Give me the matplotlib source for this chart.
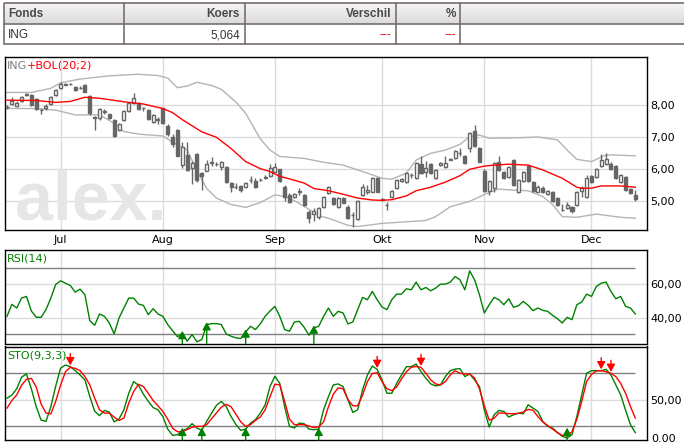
import matplotlib
matplotlib.use("Agg")
import matplotlib.pyplot as plt
import numpy as np
import pandas as pd
from matplotlib import font_manager
from matplotlib.patches import Rectangle

W, H = 684, 448
plt.rcParams["font.family"] = ["DejaVu Sans"]

# trading days shown (ING, jun-dec 2011)
dates = pd.bdate_range("2011-06-16", "2011-12-14")
month_names = ["Jul", "Aug", "Sep", "Okt", "Nov", "Dec"]

opens = [7.95, 8.04, 7.99, 8.13, 8.33, 8.31, 8.20, 7.86, 7.90, 8.03,
         8.31, 8.53, 8.64, 8.67, 8.58, 8.53, 8.62, 8.30, 7.62, 7.60,
         7.80, 7.72, 7.54, 7.22, 7.54, 7.82, 8.06, 8.06, 7.92, 7.85,
         7.47, 7.56, 7.90, 7.35, 7.00, 7.23, 6.12, 6.44, 6.03, 6.47,
         5.89, 5.96, 6.20, 6.18, 6.08, 6.08, 5.58, 5.44, 5.48, 5.46,
         5.66, 5.64, 5.66, 5.74, 5.79, 5.93, 6.00, 5.46, 5.20, 5.13,
         5.29, 5.20, 4.68, 4.60, 4.50, 4.83, 5.27, 5.11, 4.81, 5.11,
         4.81, 4.58, 4.44, 5.20, 5.28, 5.30, 5.72, 5.07, 4.89, 5.13,
         5.41, 5.63, 5.61, 5.82, 5.72, 6.17, 5.93, 6.17, 5.72, 6.13,
         6.08, 6.30, 6.34, 6.51, 6.43, 6.66, 7.21, 6.66, 5.96, 5.33,
         5.41, 6.24, 5.93, 5.77, 6.29, 5.30, 5.63, 6.11, 5.59, 5.30,
         5.43, 5.24, 5.30, 5.11, 4.74, 4.80, 4.83, 4.88, 5.33, 5.14,
         5.79, 5.75, 6.11, 6.17, 6.17, 6.10, 5.61, 5.77, 5.38, 5.20]
closes = [7.96, 8.14, 8.08, 8.25, 8.34, 8.01, 7.88, 7.84, 7.99, 8.26,
          8.49, 8.68, 8.68, 8.66, 8.47, 8.55, 8.41, 7.75, 7.60, 7.87,
          7.81, 7.60, 7.05, 7.43, 7.81, 8.07, 8.23, 7.88, 7.90, 7.57,
          7.71, 7.54, 7.45, 7.10, 6.78, 6.43, 6.70, 5.98, 6.20, 5.67,
          5.79, 6.17, 6.22, 6.16, 6.24, 5.61, 5.46, 5.45, 5.35, 5.56,
          5.68, 5.46, 5.68, 5.76, 6.03, 6.08, 5.64, 5.14, 4.99, 5.23,
          5.31, 4.88, 4.47, 4.71, 4.78, 5.13, 5.44, 4.91, 5.11, 4.96,
          4.47, 4.56, 5.02, 5.46, 5.35, 5.72, 5.30, 5.05, 4.88, 5.33,
          5.67, 5.70, 5.89, 5.83, 6.21, 5.89, 6.03, 5.88, 5.98, 6.21,
          6.21, 6.32, 6.57, 6.52, 6.21, 7.12, 6.73, 6.24, 5.33, 5.62,
          6.19, 5.98, 5.74, 6.06, 5.51, 5.67, 5.91, 5.63, 5.32, 5.46,
          5.30, 5.32, 5.01, 4.88, 4.73, 4.88, 4.70, 5.30, 5.42, 5.74,
          5.60, 6.00, 6.29, 6.31, 6.00, 5.72, 5.82, 5.35, 5.27, 5.064]
highs = [8.02, 8.25, 8.12, 8.28, 8.38, 8.34, 8.24, 7.90, 8.03, 8.28,
         8.52, 8.72, 8.70, 8.71, 8.60, 8.60, 8.68, 8.32, 7.68, 7.90,
         7.88, 7.74, 7.56, 7.46, 7.84, 8.10, 8.39, 8.10, 7.95, 7.88,
         7.74, 7.63, 7.93, 7.40, 7.10, 7.25, 6.85, 6.86, 6.25, 6.50,
         5.92, 6.30, 6.39, 6.24, 6.27, 6.10, 5.60, 5.56, 5.50, 5.60,
         5.80, 5.72, 5.72, 5.83, 6.15, 6.20, 6.02, 5.50, 5.25, 5.27,
         5.42, 5.22, 4.72, 4.78, 4.82, 5.16, 5.48, 5.14, 5.14, 5.13,
         4.88, 4.68, 5.05, 5.55, 5.50, 5.75, 5.75, 5.10, 4.98, 5.36,
         5.70, 5.73, 5.92, 5.87, 6.24, 6.40, 6.26, 6.20, 6.01, 6.24,
         6.40, 6.35, 6.60, 6.65, 6.46, 7.15, 7.38, 6.70, 6.00, 5.66,
         6.22, 6.40, 5.96, 6.09, 6.32, 5.70, 5.94, 6.14, 5.62, 5.52,
         5.48, 5.35, 5.33, 5.13, 4.92, 4.98, 4.86, 5.33, 5.48, 5.82,
         5.82, 6.03, 6.48, 6.50, 6.24, 6.13, 5.85, 5.80, 5.42, 5.34]
lows = [7.88, 8.00, 7.96, 8.10, 8.30, 7.98, 7.85, 7.73, 7.86, 8.00,
        8.29, 8.50, 8.62, 8.63, 8.45, 8.50, 8.40, 7.70, 7.22, 7.55,
        7.72, 7.58, 7.00, 7.20, 7.50, 7.80, 8.04, 7.86, 7.82, 7.55,
        7.44, 7.40, 7.42, 7.05, 6.70, 6.40, 6.05, 5.95, 5.54, 5.60,
        5.35, 5.94, 6.10, 6.10, 5.98, 5.58, 5.30, 5.38, 5.30, 5.42,
        5.58, 5.40, 5.62, 5.70, 5.76, 5.90, 5.60, 5.02, 4.95, 5.10,
        5.20, 4.85, 4.31, 4.38, 4.45, 4.80, 5.22, 4.88, 4.78, 4.94,
        4.44, 4.21, 4.41, 5.18, 5.22, 5.28, 5.28, 5.00, 4.73, 5.10,
        5.38, 5.60, 5.58, 5.74, 5.70, 5.86, 5.75, 5.85, 5.70, 6.10,
        6.05, 6.28, 6.32, 6.42, 6.18, 6.55, 6.70, 6.22, 5.30, 5.20,
        5.30, 5.95, 5.70, 5.74, 5.48, 5.25, 5.60, 5.60, 5.28, 5.28,
        5.27, 5.20, 4.99, 4.85, 4.71, 4.76, 4.62, 4.85, 5.12, 5.10,
        5.56, 5.72, 6.08, 6.14, 5.97, 5.69, 5.58, 5.33, 5.22, 5.02]

# Bollinger (20;2), read at sample days
ma_days = [0, 6, 10, 13, 16, 19, 24, 28, 32, 34, 36, 40, 43, 46, 49, 52, 54, 56,
           58, 61, 63, 66, 69, 72, 75, 77, 79, 82, 84, 87, 90, 93, 95, 98, 100,
           103, 107, 110, 112, 114, 117, 118, 120, 122, 126, 129]
ma_vals = [8.16, 8.15, 8.09, 8.12, 8.25, 8.22, 8.11, 8.04, 7.90, 7.77, 7.55, 7.17,
           7.00, 6.65, 6.24, 6.02, 5.93, 5.78, 5.70, 5.57, 5.40, 5.33, 5.22, 5.10,
           5.04, 5.03, 5.05, 5.17, 5.33, 5.44, 5.60, 5.80, 6.00, 6.10, 6.13, 6.16,
           6.13, 5.98, 5.85, 5.72, 5.44, 5.41, 5.41, 5.48, 5.48, 5.44]
up_days = [0, 5, 9, 11, 15, 21, 27, 31, 33, 35, 37, 39, 42, 44, 47, 49, 52, 54, 56,
           61, 65, 69, 73, 77, 79, 82, 84, 87, 90, 93, 95, 97, 99, 104, 109, 113,
           115, 117, 120, 123, 126, 129]
up_vals = [8.40, 8.40, 8.53, 8.70, 8.82, 8.92, 8.97, 8.93, 8.85, 8.55, 8.60, 8.72,
           8.62, 8.50, 8.10, 7.75, 6.95, 6.60, 6.40, 6.34, 6.22, 6.13, 5.93, 5.72,
           5.69, 5.88, 6.29, 6.50, 6.60, 6.78, 7.02, 7.07, 6.97, 6.98, 7.01, 6.92,
           6.60, 6.31, 6.24, 6.45, 6.44, 6.42]
lo_days = [0, 5, 10, 14, 19, 22, 24, 27, 32, 34, 37, 39, 41, 43, 46, 49, 52, 55, 57,
           59, 62, 64, 66, 70, 72, 77, 82, 86, 88, 91, 95, 99, 101, 104, 107, 110,
           112, 114, 117, 121, 126, 129]
lo_vals = [7.90, 7.90, 7.85, 7.70, 7.70, 7.44, 7.18, 7.10, 7.04, 6.85, 6.60, 5.95,
           5.40, 5.10, 4.90, 4.81, 4.96, 5.20, 5.15, 5.02, 4.75, 4.55, 4.47, 4.25,
           4.21, 4.31, 4.36, 4.40, 4.52, 4.83, 5.00, 5.28, 5.38, 5.35, 5.33, 5.15,
           4.90, 4.52, 4.50, 4.60, 4.50, 4.47]

rsi = [40.8, 48.0, 45.8, 51.8, 52.8, 44.0, 40.2, 40.2, 44.8, 51.8,
       60.0, 62.2, 60.8, 59.4, 55.4, 57.2, 53.8, 38.2, 35.4, 42.2,
       40.8, 36.8, 30.2, 39.8, 45.8, 51.8, 51.8, 48.2, 47.4, 41.8,
       45.4, 42.2, 40.8, 35.8, 32.2, 28.5, 30.5, 25.8, 29.8, 25.4,
       26.8, 35.8, 36.4, 36.4, 35.8, 30.2, 28.8, 27.8, 27.4, 31.4,
       34.8, 32.8, 36.2, 40.8, 44.0, 46.8, 40.8, 32.8, 31.8, 37.4,
       37.8, 34.2, 29.4, 33.8, 34.8, 40.8, 45.8, 40.8, 43.8, 42.8,
       36.2, 37.4, 44.8, 52.2, 50.8, 55.8, 50.8, 46.4, 44.8, 50.8,
       54.2, 54.2, 57.4, 56.8, 61.4, 56.8, 58.2, 56.2, 57.8, 60.2,
       60.2, 61.4, 64.8, 62.8, 56.8, 68.2, 62.8, 53.8, 42.8, 47.8,
       52.2, 50.8, 47.8, 51.4, 46.2, 47.2, 49.8, 47.4, 44.2, 45.8,
       44.4, 43.8, 41.4, 39.4, 36.8, 40.2, 38.8, 47.8, 49.4, 54.2,
       52.8, 58.8, 60.8, 61.4, 55.8, 51.4, 52.8, 46.8, 45.8, 42.2]
sto_k = [51.5, 55.0, 62.0, 75.0, 78.5, 62.0, 42.0, 27.0, 25.6, 42.0,
         65.0, 85.0, 88.5, 86.7, 82.2, 77.4, 71.9, 53.3, 37.0, 32.0,
         37.8, 36.0, 25.0, 28.2, 38.5, 57.0, 70.0, 66.0, 56.0, 48.0,
         41.0, 38.5, 31.0, 17.0, 10.0, 10.7, 15.0, 17.5, 23.0, 18.2,
         15.6, 25.6, 34.8, 43.5, 47.8, 42.2, 31.0, 22.0, 15.6, 17.0,
         23.7, 27.4, 34.8, 44.0, 64.5, 76.0, 68.0, 42.0, 20.0, 18.2,
         23.7, 23.0, 17.0, 16.3, 17.0, 38.5, 53.3, 66.3, 67.4, 64.5,
         49.6, 35.6, 38.5, 60.7, 77.4, 87.4, 83.7, 71.9, 57.0, 57.0,
         68.0, 77.4, 86.7, 86.7, 89.6, 81.1, 73.7, 67.4, 65.2, 66.3,
         75.6, 82.2, 84.0, 84.5, 75.6, 78.5, 71.9, 64.5, 38.5, 19.3,
         33.0, 37.8, 36.7, 30.4, 33.0, 34.8, 34.1, 44.1, 40.4, 36.7,
         25.6, 20.0, 18.2, 13.3, 8.9, 7.0, 10.7, 31.1, 55.2, 79.3,
         82.2, 82.2, 82.2, 83.7, 77.4, 66.3, 55.2, 38.0, 22.0, 13.0]
sto_d = [40.4, 48.9, 55.2, 66.0, 72.5, 73.6, 64.0, 45.0, 35.0, 34.0,
         48.0, 66.0, 81.0, 86.0, 84.8, 82.2, 75.6, 66.3, 51.5, 38.5,
         34.8, 34.8, 30.4, 26.7, 29.3, 46.0, 58.9, 67.0, 64.5, 57.0,
         48.9, 43.0, 36.7, 28.0, 18.0, 14.0, 14.0, 16.5, 19.0, 20.0,
         20.0, 22.0, 28.5, 35.0, 41.5, 44.5, 42.0, 33.5, 25.0, 20.0,
         22.0, 26.7, 30.4, 38.5, 53.0, 67.0, 66.5, 48.0, 28.0, 22.0,
         21.9, 21.9, 20.5, 18.7, 19.5, 25.0, 42.0, 56.0, 63.0, 62.0,
         50.0, 43.0, 43.0, 55.0, 70.0, 79.0, 80.0, 70.0, 62.0, 60.0,
         64.0, 73.0, 81.0, 86.0, 87.0, 85.9, 79.3, 71.9, 67.4, 66.3,
         70.0, 77.4, 82.2, 79.3, 78.5, 78.5, 74.0, 62.0, 43.0, 27.0,
         29.0, 35.0, 34.8, 34.2, 34.1, 34.5, 36.0, 39.0, 38.0, 31.0,
         25.0, 21.0, 17.0, 13.0, 10.0, 9.6, 14.0, 28.0, 48.0, 70.0,
         78.0, 82.0, 82.2, 81.0, 79.3, 75.6, 68.0, 57.0, 42.2, 29.3]

# signal days
rsi_buy = [36, 41, 49, 63]
sto_buy = [36, 40, 49, 64, 115]
sto_sell = [13, 76, 85, 122, 124]

RSI_LEVELS = (30, 70)
STO_LEVELS = (20, 80)

GRID = "#dcdcdc"
CANDLE = "#666666"
BAND = "#b4b4b4"
GREEN = "#008000"
RED = "#ff0000"

names = {f.name for f in font_manager.fontManager.ttflist}
narrow = "Liberation Sans Narrow" if "Liberation Sans Narrow" in names else "Liberation Sans"
heavy = "Liberation Sans" if "Liberation Sans" in names else "DejaVu Sans"

fig = plt.figure(figsize=(W / 100, H / 100), dpi=100)
fig.patch.set_facecolor("white")


def px_axes(x0, y0, x1, y1):
    return fig.add_axes([x0 / W, 1 - y1 / H, (x1 - x0) / W, (y1 - y0) / H])


# ---- table on top
tab = fig.add_axes([0, 0, 1, 1], zorder=-1)
tab.set_xlim(0, W)
tab.set_ylim(H, 0)
tab.axis("off")
grad = np.linspace(0.96, 0.86, 40)[:, None, None] * np.ones((1, 1, 3))
tab.imshow(grad, extent=(3.5, W, 24.5, 3.5), aspect="auto", zorder=0)
border = "#786e6a"
tab.add_patch(Rectangle((3.5, 3.5), W, 41, fill=False, ec=border, lw=1.2, zorder=2))
tab.plot([3.5, W], [24.5, 24.5], color=border, lw=1.2, zorder=2)
for cx in [124, 245, 396, 460]:
    tab.plot([cx, cx], [3.5, 44.5], color=border, lw=1.2, zorder=2)
hdr = dict(family=[narrow, "DejaVu Sans"], fontsize=8.5, fontweight="bold",
           color="#4a4a4a", va="center", zorder=3)
tab.text(8, 14, "Fonds", ha="left", **hdr)
tab.text(240, 14, "Koers", ha="right", **hdr)
tab.text(391, 14, "Verschil", ha="right", **hdr)
tab.text(456, 14, "%", ha="right", **hdr)
row = dict(family=[narrow, "DejaVu Sans"], fontsize=8.5, color="#333333",
           va="center", zorder=3)
tab.text(8, 35, "ING", ha="left", **row)
tab.text(240, 35, f"{closes[-1]:.3f}".replace(".", ","), ha="right", **row)
tab.text(391, 35, "---", ha="right", **{**row, "color": RED})
tab.text(456, 35, "---", ha="right", **{**row, "color": RED})

# ---- chart panels
n = len(closes)
days = np.arange(n)
month_idx = [int(np.argmax(dates.month == m)) for m in range(7, 13)]
xlim = (-0.41, 131.4)

ax = px_axes(5, 57, 647, 230)
rsi_ax = px_axes(5, 250, 647, 343.5)
sto_ax = px_axes(5, 346.5, 647, 440)

for a in (ax, rsi_ax, sto_ax):
    a.set_xlim(*xlim)
    a.set_xticks(month_idx)
    a.set_axisbelow(True)
    a.grid(True, color=GRID, lw=1)
    a.yaxis.tick_right()
    a.tick_params(axis="both", length=0, labelsize=8, pad=2.5)
    for s in a.spines.values():
        s.set_color("black")
        s.set_linewidth(1.0)
ax.set_xticklabels(month_names)
ax.tick_params(axis="x", pad=3.5)
rsi_ax.set_xticklabels([])
sto_ax.set_xticklabels([])

# main price panel
ax.set_ylim(4.103, 9.509)
ax.set_yticks([5, 6, 7, 8])
ax.set_yticklabels([f"{v},00" for v in [5, 6, 7, 8]])
ax.text(0.0156, 0.058, "alex.", transform=ax.transAxes, family=heavy,
        fontsize=49, fontweight="bold", color="#e6e6e6", ha="left",
        va="baseline", zorder=1.5)

ax.plot(up_days, up_vals, color=BAND, lw=1, zorder=2)
ax.plot(lo_days, lo_vals, color=BAND, lw=1, zorder=2)
ax.plot(ma_days, ma_vals, color=RED, lw=1, zorder=4)

o = np.array(opens)
c = np.array(closes)
ax.vlines(days, lows, highs, color=CANDLE, lw=1, zorder=3)
face = np.where(c >= o, "white", CANDLE)
ax.bar(days, np.abs(c - o), bottom=np.minimum(o, c), width=0.62,
       color=face, edgecolor=CANDLE, linewidth=1, zorder=3.5)

t1 = ax.text(0.003, 0.948, "ING", transform=ax.transAxes, fontsize=8,
             color="#808080", ha="left", va="center")
fig.canvas.draw()
bb = t1.get_window_extent().transformed(ax.transAxes.inverted())
ax.text(bb.x1, 0.948, "+BOL(20;2)", transform=ax.transAxes, fontsize=8,
        color=RED, ha="left", va="center")

arrow_style = "-|>,head_length=0.45,head_width=0.25"


def arrow(a, x, tip, tail, color):
    a.annotate("", xy=(x, tip), xytext=(x, tail),
               arrowprops=dict(arrowstyle=arrow_style, color=color, lw=1,
                               shrinkA=0, shrinkB=0, mutation_scale=10),
               annotation_clip=False)


# RSI panel
rsi_lim = (24.4, 80.8)
rsi_ax.set_ylim(*rsi_lim)
rsi_ax.set_yticks([40, 60])
rsi_ax.set_yticklabels(["40,00", "60,00"])
rsi_ax.hlines(RSI_LEVELS, xlim[0], n - 1, color="#808080", lw=1, zorder=2)
rsi_ax.plot(days, rsi, color=GREEN, lw=1, zorder=3)
for d in rsi_buy:
    arrow(rsi_ax, d, max(rsi[d], RSI_LEVELS[0]) + 1.5, rsi_lim[0], GREEN)
rsi_ax.text(0.003, 0.91, "RSI(14)", transform=rsi_ax.transAxes, fontsize=8,
            color=GREEN, ha="left", va="center")

# STO panel
sto_lim = (4.8, 109.2)
sto_ax.set_ylim(*sto_lim)
sto_ax.set_yticks([50])
sto_ax.set_yticklabels(["50,00"])
sto_ax.text(1.006, 0.014, "0.00", transform=sto_ax.transAxes, fontsize=8,
            ha="left", va="center")
sto_ax.hlines(STO_LEVELS, xlim[0], n - 1, color="#808080", lw=1, zorder=2)
sto_ax.plot(days, sto_k, color=GREEN, lw=1, zorder=3)
sto_ax.plot(days, sto_d, color=RED, lw=1, zorder=3)
for d in sto_buy:
    arrow(sto_ax, d, STO_LEVELS[0] - 1.5, sto_lim[0], GREEN)
for d in sto_sell:
    tip = max(sto_k[d], sto_d[d]) + 1.5
    arrow(sto_ax, d, tip, tip + 13, RED)
sto_ax.text(0.003, 0.899, "STO(9,3,3)", transform=sto_ax.transAxes,
            fontsize=8, color=GREEN, ha="left", va="center")

fig.savefig("out.png", dpi=100, facecolor="white")
